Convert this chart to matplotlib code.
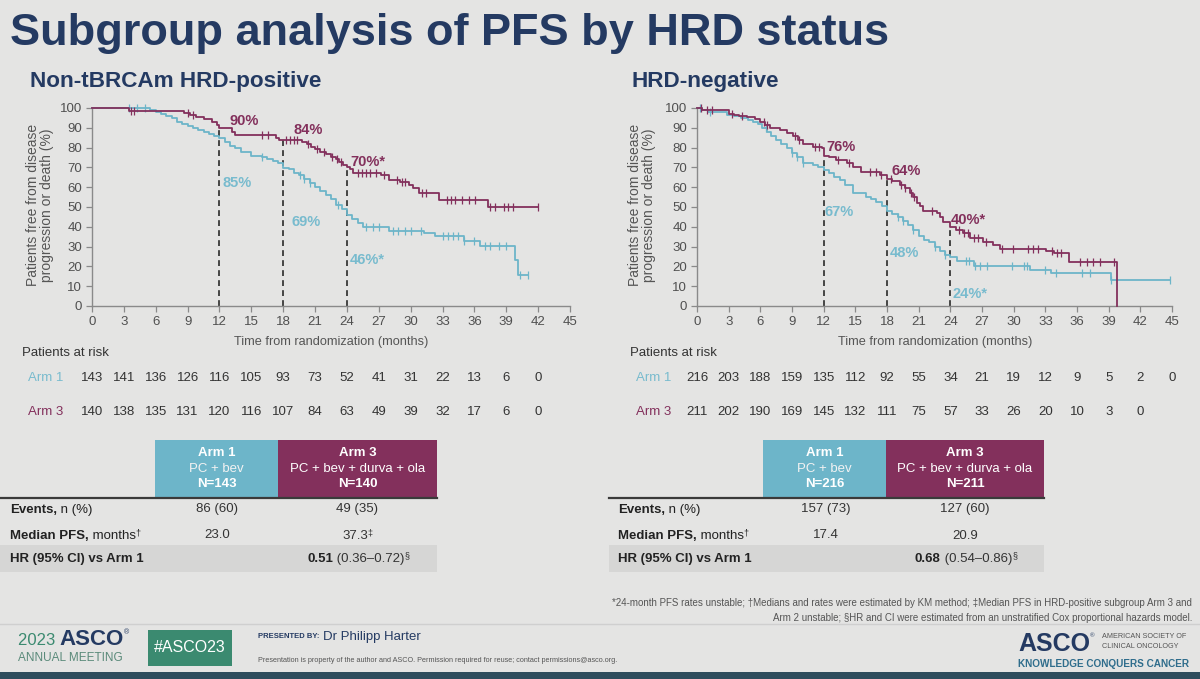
import numpy as np
import matplotlib
matplotlib.use('Agg')
import matplotlib.pyplot as plt
from matplotlib import transforms
from matplotlib.patches import Rectangle
from matplotlib.lines import Line2D

plt.rcParams['font.family'] = ['Liberation Sans', 'DejaVu Sans']

# ---------------- DATA ----------------
# HRD-positive (non-tBRCAm) - Arm 1 (teal)
t1L = [0, 5.5, 6, 6.5, 7, 7.5, 8, 8.5, 9, 9.5, 10, 10.5, 11, 11.5, 12, 12.5, 13, 13.5, 14, 15,
       16, 16.5, 17, 17.5, 18, 18.5, 19, 19.5, 20, 20.5, 21, 21.5, 22, 22.5, 23, 23.5, 24, 24.5, 25, 25.5,
       28, 31.3, 32.3, 35, 36.5, 39.8, 40.1, 41]
s1L = [100, 99, 98, 97, 96, 95, 93, 92, 91, 90, 89, 88, 87, 86, 85, 83, 81, 80, 78, 76,
       75, 74, 73, 72, 69.5, 69, 67, 66, 64, 62, 60, 58, 56, 54, 51, 49, 46, 44, 42, 40,
       38, 37, 35.5, 33, 30.5, 23, 15.5, 15.5]
c1L = [3.5, 4.2, 5.0, 16.0, 19.6, 20.0, 20.5, 23.2, 25.8, 26.5, 27.0, 28.3, 28.8, 29.5, 30.0, 31.0,
       33.0, 33.5, 34.0, 34.5, 35.0, 36.0, 37.0, 37.5, 38.3, 39.0, 40.3, 41.0]
# HRD-positive - Arm 3 (maroon)
t3L = [0, 3.5, 8.7, 9.2, 9.8, 10.5, 11.3, 11.8, 12.0, 13.2, 13.5, 17.3, 17.6, 19.8, 20.2, 20.6, 21.0,
       21.5, 22.0, 22.5, 23.0, 23.3, 23.6, 24.0, 24.3, 24.6, 27.2, 28.0, 29.0, 29.8, 30.2, 30.8, 32.7,
       37.3, 42.0]
s3L = [100, 98.5, 97.5, 96.5, 95.5, 94.5, 93, 91.5, 90, 88, 86.5, 85, 84, 83, 82, 80.5, 79.5,
       78, 77, 75.5, 74, 72.5, 71, 70, 69, 67, 66, 63.5, 62.5, 61, 59.5, 57, 53.5, 50, 50]
c3L = [3.7, 4.0, 9.0, 9.5, 16.0, 16.6, 18.3, 18.6, 19.0, 19.3, 20.3, 21.2, 21.8, 22.6, 23.1, 23.4,
       25.0, 25.4, 25.8, 26.2, 26.7, 27.5, 28.7, 29.2, 29.5, 31.1, 31.4, 33.4, 33.8, 34.2, 34.8, 35.5,
       36.1, 37.5, 37.9, 38.8, 39.2, 39.6, 42.0]

# HRD-negative - Arm 1 (teal)
t1R = [0, 0.5, 1.0, 2.8, 3.5, 4.2, 4.8, 5.3, 5.8, 6.2, 6.6, 7.0, 7.5, 8.0, 8.5, 9.0, 9.5, 10.0, 11.0,
       11.5, 12.0, 12.5, 13.0, 13.5, 14.0, 14.8, 16.0, 16.5, 17.0, 17.5, 18.0, 18.5, 19.0, 19.5, 20.0,
       20.5, 21.0, 21.5, 22.0, 22.5, 23.0, 23.5, 24.0, 24.6, 26.2, 31.5, 33.5, 39.2, 44.8]
s1R = [100, 99, 98, 96.5, 96, 95, 94, 93, 92, 90, 88, 86, 84, 82, 80, 77.5, 75, 72, 71,
       70, 68.5, 67, 65, 63.5, 61, 57, 55, 54, 52.5, 50.5, 48, 46.5, 45, 43, 41,
       38.5, 35.5, 33.5, 32.5, 30, 28, 26, 24.5, 22.5, 20, 18, 16.5, 13, 13]
c1R = [0.3, 1.2, 6.5, 9.0, 9.5, 10.0, 19.0, 19.5, 20.5, 22.5, 23.5, 25.5, 25.8, 26.3, 26.8, 27.5,
       29.8, 31.0, 31.3, 33.0, 34.0, 36.5, 37.2, 39.2, 44.8]
# HRD-negative - Arm 3 (maroon)
t3R = [0, 0.5, 3.0, 3.5, 4.0, 4.7, 5.5, 6.0, 6.4, 6.9, 7.9, 8.5, 9.1, 9.6, 10.0, 11.0, 11.8, 12.0,
       12.5, 13.2, 14.2, 14.8, 15.5, 17.3, 18.0, 18.5, 19.2, 19.7, 20.2, 20.5, 20.8, 21.1, 21.4, 22.7,
       23.0, 23.3, 24.0, 24.5, 25.2, 25.9, 27.1, 28.0, 28.7, 33.1, 33.8, 35.2, 39.8]
s3R = [100, 99, 97, 96.5, 96, 95.5, 94.5, 93, 91.5, 90, 89, 87.5, 86, 84, 82, 80.5, 79.8, 76,
       75, 73.7, 72, 70, 67.5, 66, 64, 63, 61, 59.5, 57, 55, 52, 50.5, 48, 47,
       45, 42.5, 40, 38.5, 37, 34.5, 32.5, 31, 29, 28, 27, 22, 0]
c3R = [0.4, 0.9, 1.4, 3.3, 4.3, 6.3, 6.6, 9.3, 9.7, 11.2, 11.6, 13.4, 14.4, 16.4, 17.0, 17.4, 18.4,
       19.3, 19.7, 20.3, 20.6, 22.3, 24.8, 25.3, 25.7, 26.2, 26.6, 27.4, 28.9, 29.9, 31.4, 31.8, 32.3,
       33.6, 34.1, 34.5, 36.3, 36.9, 37.5, 38.2, 39.5]

landmarks = [12, 18, 24]
pct3L = ['90%', '84%', '70%*']
pct1L = ['85%', '69%', '46%*']
pct3R = ['76%', '64%', '40%*']
pct1R = ['67%', '48%', '24%*']

risk_times_L = list(range(0, 43, 3))
risk1L = [143, 141, 136, 126, 116, 105, 93, 73, 52, 41, 31, 22, 13, 6, 0]
risk3L = [140, 138, 135, 131, 120, 116, 107, 84, 63, 49, 39, 32, 17, 6, 0]
risk_times_R1 = list(range(0, 46, 3))
risk1R = [216, 203, 188, 159, 135, 112, 92, 55, 34, 21, 19, 12, 9, 5, 2, 0]
risk_times_R3 = list(range(0, 43, 3))
risk3R = [211, 202, 190, 169, 145, 132, 111, 75, 57, 33, 26, 20, 10, 3, 0]

nL = ['N=143', 'N=140']
nR = ['N=216', 'N=211']
eventsL = ['86 (60)', '49 (35)']
eventsR = ['157 (73)', '127 (60)']
medianL = ['23.0', '37.3']
medianR = ['17.4', '20.9']
hrL = ['0.51', '(0.36\u20130.72)']
hrR = ['0.68', '(0.54\u20130.86)']

# ---------------- STYLE ----------------
W, H = 1200, 679
BG = '#e4e4e3'
NAVY = '#243a62'
TEAL = '#6db5c9'
TEAL_TXT = '#78bbce'
MAROON = '#83305c'
AXC = '#8a8a8a'
TXT = '#404040'
GREEN = '#3b8a70'

fig = plt.figure(figsize=(12, 6.79), dpi=100)
fig.patch.set_facecolor(BG)
renderer = fig.canvas.get_renderer()


def fx(px):
    return px / W


def fy(py):
    return 1 - py / H


def put(x, y, s, size, color=TXT, weight='normal', ha='left', va='center', **kw):
    return fig.text(fx(x), fy(y), s, fontsize=size, color=color, fontweight=weight,
                    ha=ha, va=va, **kw)


def rich(x, y, parts, ha='left'):
    """parts: (text, size, weight, color, rise_px); y = baseline in px"""
    objs = []
    for s, size, weight, color, rise in parts:
        t = fig.text(0, 0, s, fontsize=size, fontweight=weight, color=color,
                     ha='left', va='baseline')
        objs.append((t, rise))
    widths = [t.get_window_extent(renderer).width for t, _ in objs]
    total = sum(widths)
    if ha == 'center':
        cur = x - total / 2
    elif ha == 'right':
        cur = x - total
    else:
        cur = x
    for (t, rise), w in zip(objs, widths):
        t.set_position((fx(cur), fy(y - rise)))
        cur += w


def step_val(t, s, x):
    t = np.asarray(t)
    s = np.asarray(s)
    idx = np.searchsorted(t, np.asarray(x), side='right') - 1
    return s[idx]


def rect(x0, y0, x1, y1, color, z=0):
    fig.add_artist(Rectangle((fx(x0), fy(y1)), (x1 - x0) / W, (y1 - y0) / H,
                             transform=fig.transFigure, facecolor=color,
                             edgecolor='none', zorder=z))


def hline(x0, x1, y, color, lw):
    fig.add_artist(Line2D([fx(x0), fx(x1)], [fy(y), fy(y)], transform=fig.transFigure,
                          color=color, lw=lw))


# ---------------- TITLES ----------------
put(10, 34, 'Subgroup analysis of PFS by HRD status', 32.5, NAVY, 'bold')
put(30, 82, 'Non-tBRCAm HRD-positive', 16.2, NAVY, 'bold')
put(632, 82, 'HRD-negative', 16.2, NAVY, 'bold')


# ---------------- KM PANELS ----------------
def km_panel(left_px, right_px, t1, s1, c1, t3, s3, c3, p1, p3, off1, off3):
    ax = fig.add_axes([fx(left_px), fy(306), (right_px - left_px) / W, 198 / H])
    ax.set_facecolor('none')
    ax.set_xlim(0, 45)
    ax.set_ylim(0, 100)
    for sp in ['top', 'right']:
        ax.spines[sp].set_visible(False)
    for sp in ['left', 'bottom']:
        ax.spines[sp].set_color(AXC)
        ax.spines[sp].set_linewidth(1.0)
    ax.set_xticks(range(0, 46, 3))
    ax.set_yticks(range(0, 101, 10))
    ax.tick_params(length=4, width=0.9, color=AXC, labelsize=9.5, labelcolor='#505050', pad=3)

    ax.step(t1, s1, where='post', color=TEAL, lw=1.3, clip_on=False, zorder=3)
    ax.step(t3, s3, where='post', color=MAROON, lw=1.3, clip_on=False, zorder=4)
    ax.plot(c1, step_val(t1, s1, c1), ls='none', marker='|', ms=5.5, mew=0.9,
            color=TEAL, clip_on=False, zorder=3)
    ax.plot(c3, step_val(t3, s3, c3), ls='none', marker='|', ms=5.5, mew=0.9,
            color=MAROON, clip_on=False, zorder=4)

    lm3 = step_val(t3, s3, landmarks)
    lm1 = step_val(t1, s1, landmarks)
    ax.vlines(landmarks, 0, lm3, colors='#2a2a2a', linestyles=(0, (3.5, 2.5)), lw=1.2, zorder=2)

    for i, x in enumerate(landmarks):
        dx3, dy3 = off3[i]
        dx1, dy1 = off1[i]
        ax.text(x + dx3, lm3[i] + dy3, p3[i], color=MAROON, fontsize=10.5,
                fontweight='bold', ha='left', va='center')
        ax.text(x + dx1, lm1[i] + dy1, p1[i], color=TEAL_TXT, fontsize=10.5,
                fontweight='bold', ha='left', va='center')
    return ax


axL = km_panel(92, 570, t1L, s1L, c1L, t3L, s3L, c3L, pct1L, pct3L,
               off1=[(0.3, -23), (0.8, -27), (0.3, -23)],
               off3=[(0.9, 3.5), (1.0, 5), (0.3, 2.8)])
axR = km_panel(697, 1172, t1R, s1R, c1R, t3R, s3R, c3R, pct1R, pct3R,
               off1=[(0.1, -21), (0.3, -21), (0.2, -18.5)],
               off3=[(0.3, 4.3), (0.4, 4), (0.0, 3.4)])

ylab = 'Patients free from disease\nprogression or death (%)'
put(40, 205, ylab, 10, '#555555', rotation=90, ha='center', va='center', linespacing=1.05)
put(642, 205, ylab, 10, '#555555', rotation=90, ha='center', va='center', linespacing=1.05)
put(331, 342, 'Time from randomization (months)', 9.2, '#555555', ha='center')
put(935, 342, 'Time from randomization (months)', 9.2, '#555555', ha='center')


# ---------------- AT RISK ----------------
def at_risk(ax, x_lab, times1, r1, times3, r3):
    put(x_lab - 6, 353, 'Patients at risk', 9.5, '#333333')
    put(x_lab, 378, 'Arm 1', 9.5, TEAL_TXT)
    put(x_lab, 412, 'Arm 3', 9.5, MAROON)
    tr = transforms.blended_transform_factory(ax.transData, fig.transFigure)
    for x, v in zip(times1, r1):
        fig.text(x, fy(378), str(v), transform=tr, fontsize=9.5, color='#333333',
                 ha='center', va='center')
    for x, v in zip(times3, r3):
        fig.text(x, fy(412), str(v), transform=tr, fontsize=9.5, color='#333333',
                 ha='center', va='center')


at_risk(axL, 28, risk_times_L, risk1L, risk_times_L, risk3L)
at_risk(axR, 636, risk_times_R1, risk1R, risk_times_R3, risk3R)


# ---------------- TABLES ----------------
def table(x_line0, x_lab, xa, xb, xc, ns, events, medians, hr, median_mark):
    rect(x_line0, 545, xc, 572, '#d6d6d5')
    rect(xa, 440, xb, 497, TEAL)
    rect(xb, 440, xc, 497, MAROON)
    hline(x_line0, xc, 497.5, '#3a3a3a', 1.6)
    c1 = (xa + xb) / 2
    c3 = (xb + xc) / 2
    put(c1, 453, 'Arm 1', 9.5, 'white', 'bold', ha='center')
    put(c1, 469, 'PC + bev', 9.5, '#f2f2f2', ha='center')
    put(c1, 484, ns[0], 9.5, 'white', 'bold', ha='center')
    put(c3, 453, 'Arm 3', 9.5, 'white', 'bold', ha='center')
    put(c3, 469, 'PC + bev + durva + ola', 9.5, 'white', ha='center')
    put(c3, 484, ns[1], 9.5, 'white', 'bold', ha='center')

    rich(x_lab, 513, [('Events,', 9.5, 'bold', '#222222', 0), (' n (%)', 9.5, 'normal', '#222222', 0)])
    rich(x_lab, 539, [('Median PFS,', 9.5, 'bold', '#222222', 0),
                      (' months', 9.5, 'normal', '#222222', 0),
                      ('\u2020', 6.5, 'normal', '#222222', 4)])
    rich(x_lab, 562, [('HR (95% CI) vs Arm 1', 9.5, 'bold', '#222222', 0)])

    put(c1 + 1, 509, events[0], 9.5, '#333333', ha='center')
    put(c3, 509, events[1], 9.5, '#333333', ha='center')
    put(c1 + 1, 535, medians[0], 9.5, '#333333', ha='center')
    parts = [(medians[1], 9.5, 'normal', '#333333', 0)]
    if median_mark:
        parts.append(('\u2021', 6.5, 'normal', '#333333', 4))
    rich(c3, 539, parts, ha='center')
    rich(c3 + 1, 562, [(hr[0], 9.5, 'bold', '#222222', 0),
                       (' ' + hr[1], 9.5, 'normal', '#333333', 0),
                       ('\u00a7', 6.5, 'normal', '#333333', 4)], ha='center')


table(0, 10, 155, 278, 437, nL, eventsL, medianL, hrL, True)
table(609, 618, 763, 886, 1044, nR, eventsR, medianR, hrR, False)

# ---------------- FOOTNOTE ----------------
put(1192, 603, '*24-month PFS rates unstable; \u2020Medians and rates were estimated by KM method; '
    '\u2021Median PFS in HRD-positive subgroup Arm 3 and', 7, '#555555', ha='right')
put(1192, 618, 'Arm 2 unstable; \u00a7HR and CI were estimated from an unstratified Cox '
    'proportional hazards model.', 7, '#555555', ha='right')

# ---------------- FOOTER ----------------
hline(0, 1200, 624, '#cfcfcf', 1.0)
rect(0, 672, 1200, 679, '#2d4c5c')
rich(18, 645, [('2023 ', 12, 'normal', GREEN, 0), ('ASCO', 16, 'bold', NAVY, 0),
               ('\u00ae', 5, 'normal', NAVY, 11)])
put(18, 658, 'ANNUAL MEETING', 8.5, '#5a8a7a')
rect(148, 630, 232, 666, GREEN)
put(190, 648, '#ASCO23', 11.5, 'white', ha='center')
put(258, 637, 'PRESENTED BY:', 5.5, NAVY, 'bold')
put(323, 637, 'Dr Philipp Harter', 9.5, NAVY)
put(258, 660, 'Presentation is property of the author and ASCO. Permission required for reuse; '
    'contact permissions@asco.org.', 5.2, '#555555')
rich(1018, 651, [('ASCO', 18, 'bold', NAVY, 0), ('\u00ae', 4.5, 'normal', NAVY, 14)])
put(1102, 636, 'AMERICAN SOCIETY OF', 5.2, '#555555')
put(1102, 647, 'CLINICAL ONCOLOGY', 5.2, '#555555')
put(1018, 664, 'KNOWLEDGE CONQUERS CANCER', 7.2, '#2f6d8c', 'bold')

fig.savefig('out.png', dpi=100, facecolor=BG)
